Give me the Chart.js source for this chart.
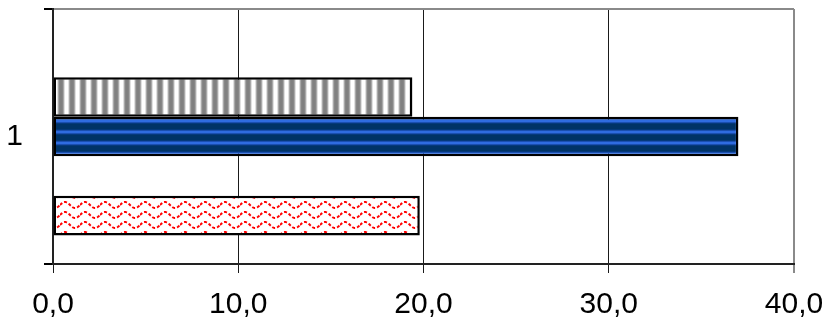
<!DOCTYPE html>
<html>
<head>
<meta charset="utf-8">
<script src="https://cdn.jsdelivr.net/npm/chart.js@4/dist/chart.umd.min.js"></script>
<style>
  html, body { margin: 0; padding: 0; background: #fff; }
  canvas { display: block; }
</style>
</head>
<body>
<canvas id="barChart" width="828" height="321"></canvas>
<script>
// data (one category, five series; two are empty)
const categories = ['1'];
const seriesEmptyTop = [null];
const seriesGray = [19.4];
const seriesBlue = [37.0];
const seriesEmptyMid = [null];
const seriesRed = [19.8];
const xTicks = [0, 10, 20, 30, 40];

// --- fill patterns ---
function makeTile(w, h, draw) {
  const c = document.createElement('canvas');
  c.width = w; c.height = h;
  const g = c.getContext('2d');
  draw(g, w, h);
  return g.createPattern(c, 'repeat');
}

// gray vertical stripes
const grayPattern = makeTile(11, 4, (g, w, h) => {
  const cols = ['#ffffff', '#ffffff', '#e0e0e0', '#a8a8a8', '#868686', '#808080', '#808080', '#868686', '#a8a8a8', '#e0e0e0', '#ffffff'];
  cols.forEach((c, i) => { g.fillStyle = c; g.fillRect(i, 0, 1, h); });
});

// navy with bright blue horizontal lines
const bluePattern = makeTile(4, 11, (g, w, h) => {
  const rows = ['#2f6ce0', '#1a4fb0', '#05397a', '#003366', '#003366', '#003366', '#003366', '#003366', '#05397a', '#1a4fb0', '#2f6ce0'];
  rows.forEach((c, i) => { g.fillStyle = c; g.fillRect(0, i, w, 1); });
});

// red wavy lines on white
const redPattern = makeTile(20, 10, (g, w, h) => {
  g.fillStyle = '#fff';
  g.fillRect(0, 0, w, h);
  g.strokeStyle = '#ff0000';
  g.lineWidth = 2;
  g.setLineDash([3, 2]);
  g.beginPath();
  for (let x = 0; x <= w; x += 0.5) {
    const y = 5 - 3 * Math.sin((x / w) * Math.PI * 2);
    if (x === 0) g.moveTo(x, y); else g.lineTo(x, y);
  }
  g.stroke();
});

const fmt = v => Number(v).toFixed(1).replace('.', ',');
const noPad = s => { s.paddingLeft = 0; s.paddingRight = 0; s.paddingTop = 0; s.paddingBottom = 0; };

const ctx = document.getElementById('barChart').getContext('2d');
new Chart(ctx, {
  type: 'bar',
  data: {
    labels: categories,
    datasets: [
      { label: 'S5', data: seriesEmptyTop },
      { label: 'S4', data: seriesGray, backgroundColor: grayPattern },
      { label: 'S3', data: seriesBlue, backgroundColor: bluePattern },
      { label: 'S2', data: seriesEmptyMid },
      { label: 'S1', data: seriesRed, backgroundColor: redPattern }
    ].map(d => Object.assign({
      borderColor: '#000',
      borderWidth: 2.5,
      borderSkipped: false,
      categoryPercentage: 0.776,
      barPercentage: 1
    }, d))
  },
  options: {
    indexAxis: 'y',
    responsive: false,
    animation: false,
    layout: { padding: { top: 9, right: 34, left: 0, bottom: 0 } },
    plugins: { legend: { display: false }, tooltip: { enabled: false } },
    scales: {
      x: {
        min: 0,
        max: 40,
        afterBuildTicks: s => { s.ticks = xTicks.map(v => ({ value: v })); },
        afterFit: s => { s.height = 57; noPad(s); },
        ticks: {
          callback: v => fmt(v),
          color: '#000',
          padding: 14,
          maxRotation: 0,
          font: { family: 'Liberation Sans, Arial', size: 30 }
        },
        grid: {
          color: c => (c.tick && c.tick.value === 40) ? '#8a8a8a' : '#1a1a1a',
          lineWidth: c => (c.tick && c.tick.value === 40) ? 2 : 1,
          tickLength: 9
        },
        border: { color: '#222', width: 2 }
      },
      y: {
        afterFit: s => { s.width = 53; noPad(s); },
        ticks: {
          color: '#000',
          padding: 21,
          font: { family: 'Liberation Sans, Arial', size: 30 }
        },
        grid: {
          offset: true,
          color: c => c.index === 0 ? '#8a8a8a' : '#222',
          lineWidth: 2,
          tickColor: '#000',
          tickLength: 9
        },
        border: { color: '#222', width: 2 }
      }
    }
  }
});
</script>
</body>
</html>
